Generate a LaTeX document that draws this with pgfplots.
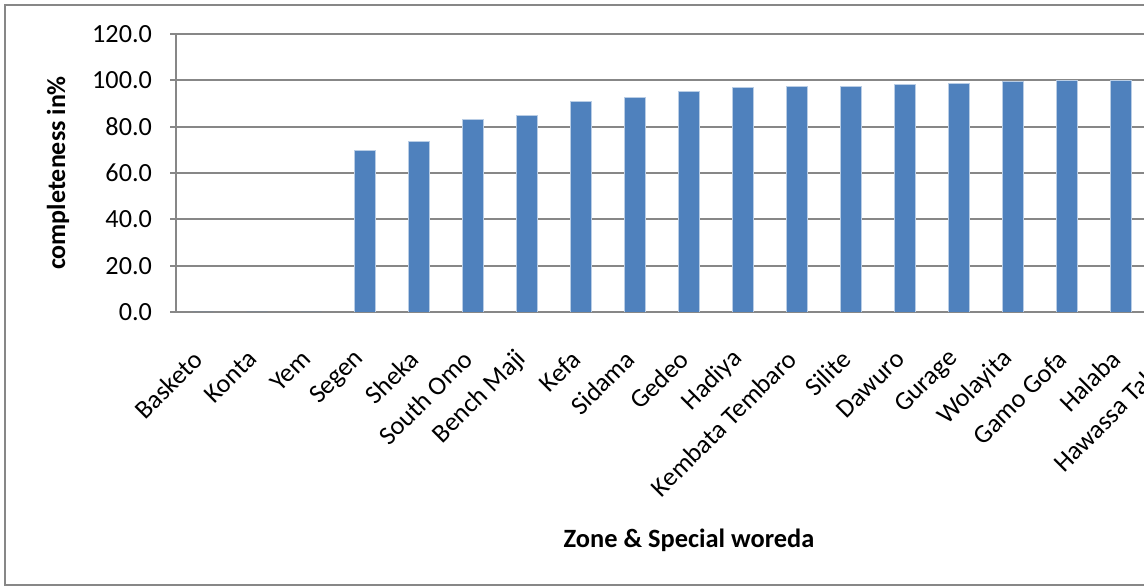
\documentclass[border=0pt]{standalone}
\usepackage{fontspec}
\setmainfont{Carlito}
\usepackage{pgfplots}
\pgfplotsset{compat=1.18}
\definecolor{barblue}{HTML}{4F81BD}
\definecolor{baredge}{HTML}{B9CDE5}
\definecolor{linegray}{HTML}{878787}
\begin{document}
\begin{tikzpicture}
\useasboundingbox (0,0) rectangle (572pt,293.5pt);
\clip (0,0) rectangle (572pt,293.5pt);
\fill[white] (0,0) rectangle (572pt,293.5pt);
\draw[linegray, line width=1.1pt] (2.5pt,1pt) rectangle (650pt,291pt);
\begin{axis}[
  at={(88pt,137.5pt)}, anchor=south west,
  width=513pt, height=139pt, scale only axis,
  xmin=-0.5, xmax=18.5, ymin=0, ymax=120,
  ytick={0,20,...,120},
  xtick={0,...,18},
  xticklabels={Basketo,Konta,Yem,Segen,Sheka,South Omo,Bench Maji,Kefa,Sidama,Gedeo,Hadiya,Kembata Tembaro,Silite,Dawuro,Gurage,Wolayita,Gamo Gofa,Halaba,Hawassa Tabor},
  axis lines=left,
  axis line style={-, linegray, line width=0.9pt},
  ymajorgrids,
  grid style={linegray, line width=0.9pt},
  tick align=outside,
  major tick length=3pt,
  xtick style={draw=none},
  ytick style={linegray, line width=0.9pt},
  /pgf/number format/assume math mode=true,
  yticklabel style={/pgf/number format/fixed, /pgf/number format/fixed zerofill, /pgf/number format/precision=1},
  yticklabel shift=5.5pt,
  ticklabel style={font=\fontsize{13.1}{15}\selectfont, text=black},
  xticklabel style={rotate=45, anchor=east},
  xticklabel shift=16pt,
  ylabel={completeness in\%},
  xlabel={Zone \& Special woreda},
  every axis y label/.style={at={(axis description cs:-0.115,0.5)}, anchor=center, rotate=90, font=\fontsize{13}{15}\selectfont\bfseries},
  every axis x label/.style={at={(axis description cs:0.5,-0.82)}, anchor=center, font=\fontsize{13.2}{15}\selectfont\bfseries},
  ybar, bar width=10.5pt,
]
\addplot[fill=barblue, draw=baredge, line width=0.4pt] coordinates {
(0,0) (1,0) (2,0) (3,69.8) (4,73.6) (5,83.1) (6,84.8) (7,90.7) (8,92.8) (9,95.2)
(10,96.9) (11,97.3) (12,97.5) (13,98.3) (14,98.7) (15,99.6) (16,100) (17,100) (18,100)
};
\end{axis}
\end{tikzpicture}
\end{document}
